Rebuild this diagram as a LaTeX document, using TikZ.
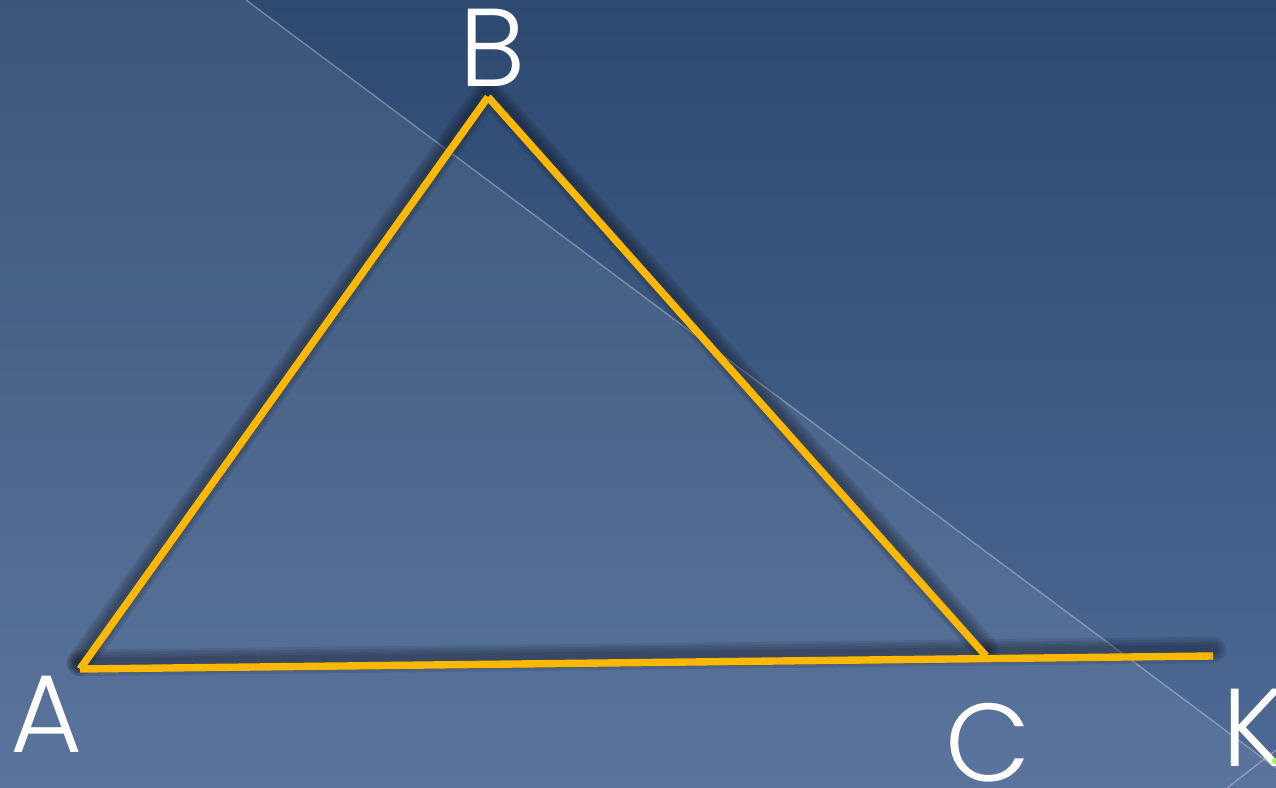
\documentclass[tikz,border=0pt]{standalone}
\usepackage{fontspec}
\newfontfamily\lbl{Poppins Light}
\definecolor{bgtop}{RGB}{46,73,112}
\definecolor{bgbot}{RGB}{78,106,150}
\definecolor{gold}{RGB}{255,184,0}
\definecolor{glow}{RGB}{150,255,60}
\begin{document}
\begin{tikzpicture}[x=0.02cm,y=-0.02cm,
  seg/.style={line width=4.2pt, draw=gold, line cap=butt},
  shadowln/.style={line width=#1, draw=black, opacity=0.09, line cap=round, line join=round},
  lab/.style={text=white, font=\lbl\fontsize{63}{63}\selectfont, inner sep=0pt, anchor=center},
  thinln/.style={draw=white, opacity=0.3, line width=0.8pt}]
\useasboundingbox (0,0) rectangle (1276,788);
\shade[top color=bgtop, bottom color=bgbot] (0,0) rectangle (1276,788);
% lighter region
\coordinate (L1) at (246,0);
\coordinate (L2) at (1276,768);
\fill[white, opacity=0.07] (0,0) -- (L1) -- (L2) -- (1276,788) -- (0,788) -- cycle;
\draw[thinln] (L1) -- (L2);
\coordinate (M1) at (1227,788);
\coordinate (M2) at (1276,750);
\draw[thinln] (M1) -- (M2);
% vertices
\coordinate (vA) at (80,669);
\coordinate (vB) at (488,97);
\coordinate (vC) at (986,656);
\coordinate (vE) at (1213,656);
% shadows
\begin{scope}[transform canvas={yshift=3.5pt}]
\foreach \w in {15pt,12pt,9pt,6pt}{
  \draw[shadowln=\w] (vA) -- (vB) -- (vC);
  \draw[shadowln=\w] (vA) -- (vE);
}
\end{scope}
% triangle
\draw[seg] (vA) -- (vB);
\draw[seg] (vB) -- (vC);
\draw[seg] (vA) -- (vE);
% labels
\node[lab] (A) at (47,714) {A};
\node[lab] (B) at (493,48) {B};
\node[lab] (C) at (988,743) {C};
\node[lab, anchor=west] (K) at (1222,728) {K};
\fill[glow] (1275,761) circle (3);
\end{tikzpicture}
\end{document}
